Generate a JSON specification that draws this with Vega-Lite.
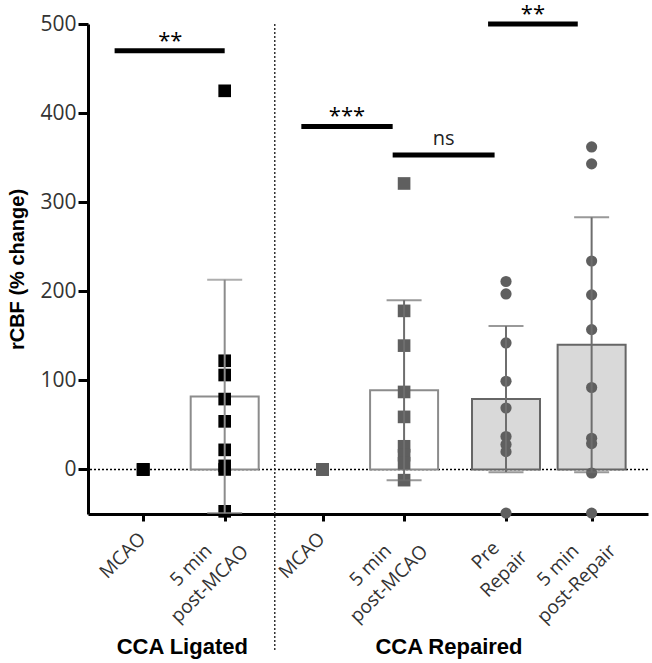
{
  "$schema": "https://vega.github.io/schema/vega-lite/v6.json",
  "width": 560,
  "height": 490,
  "autosize": {"type": "none"},
  "padding": {"left": 88, "top": 24, "right": 4, "bottom": 149},
  "background": "white",
  "config": {"view": {"stroke": null}},
  "datasets": {
    "pts": [
      {"cond": "L_MCAO", "set": "L", "pos": 1, "v": 0},
      {"cond": "L_MCAO", "set": "L", "pos": 1, "v": 0},
      {"cond": "L_MCAO", "set": "L", "pos": 1, "v": 0},
      {"cond": "L_post", "set": "L", "pos": 2, "v": 425},
      {"cond": "L_post", "set": "L", "pos": 2, "v": 122},
      {"cond": "L_post", "set": "L", "pos": 2, "v": 106},
      {"cond": "L_post", "set": "L", "pos": 2, "v": 79},
      {"cond": "L_post", "set": "L", "pos": 2, "v": 54},
      {"cond": "L_post", "set": "L", "pos": 2, "v": 22},
      {"cond": "L_post", "set": "L", "pos": 2, "v": 4},
      {"cond": "L_post", "set": "L", "pos": 2, "v": 0},
      {"cond": "L_post", "set": "L", "pos": 2, "v": -47},
      {"cond": "R_MCAO", "set": "R", "pos": 3.2, "v": 0},
      {"cond": "R_MCAO", "set": "R", "pos": 3.2, "v": 0},
      {"cond": "R_MCAO", "set": "R", "pos": 3.2, "v": 0},
      {"cond": "R_post", "set": "R", "pos": 4.2, "v": 321},
      {"cond": "R_post", "set": "R", "pos": 4.2, "v": 178},
      {"cond": "R_post", "set": "R", "pos": 4.2, "v": 139},
      {"cond": "R_post", "set": "R", "pos": 4.2, "v": 87},
      {"cond": "R_post", "set": "R", "pos": 4.2, "v": 59},
      {"cond": "R_post", "set": "R", "pos": 4.2, "v": 26},
      {"cond": "R_post", "set": "R", "pos": 4.2, "v": 16},
      {"cond": "R_post", "set": "R", "pos": 4.2, "v": 7},
      {"cond": "R_post", "set": "R", "pos": 4.2, "v": -12},
      {"cond": "R_pre", "set": "R", "pos": 5.45, "v": 211},
      {"cond": "R_pre", "set": "R", "pos": 5.45, "v": 197},
      {"cond": "R_pre", "set": "R", "pos": 5.45, "v": 142},
      {"cond": "R_pre", "set": "R", "pos": 5.45, "v": 99},
      {"cond": "R_pre", "set": "R", "pos": 5.45, "v": 69},
      {"cond": "R_pre", "set": "R", "pos": 5.45, "v": 37},
      {"cond": "R_pre", "set": "R", "pos": 5.45, "v": 28},
      {"cond": "R_pre", "set": "R", "pos": 5.45, "v": 20},
      {"cond": "R_pre", "set": "R", "pos": 5.45, "v": -49},
      {"cond": "R_postrep", "set": "R", "pos": 6.5, "v": 362},
      {"cond": "R_postrep", "set": "R", "pos": 6.5, "v": 343},
      {"cond": "R_postrep", "set": "R", "pos": 6.5, "v": 234},
      {"cond": "R_postrep", "set": "R", "pos": 6.5, "v": 196},
      {"cond": "R_postrep", "set": "R", "pos": 6.5, "v": 157},
      {"cond": "R_postrep", "set": "R", "pos": 6.5, "v": 92},
      {"cond": "R_postrep", "set": "R", "pos": 6.5, "v": 35},
      {"cond": "R_postrep", "set": "R", "pos": 6.5, "v": 29},
      {"cond": "R_postrep", "set": "R", "pos": 6.5, "v": -4},
      {"cond": "R_postrep", "set": "R", "pos": 6.5, "v": -49}
    ],
    "sum": [
      {"cond": "L_post", "set": "L", "kind": "open", "pos": 2, "mean": 82, "lo": -49, "hi": 213},
      {"cond": "R_post", "set": "R", "kind": "open", "pos": 4.2, "mean": 89, "lo": -12, "hi": 190},
      {"cond": "R_pre", "set": "R", "kind": "filled", "pos": 5.45, "mean": 79, "lo": -3, "hi": 161},
      {"cond": "R_postrep", "set": "R", "kind": "filled", "pos": 6.5, "mean": 140, "lo": -3, "hi": 283}
    ],
    "sig": [
      {"x1": 0.65, "x2": 2.0, "xm": 1.333, "y": 470, "label": "**"},
      {"x1": 2.94, "x2": 4.06, "xm": 3.5, "y": 385, "label": "***"},
      {"x1": 4.06, "x2": 5.31, "xm": 4.685, "y": 353, "label": "ns"},
      {"x1": 5.23, "x2": 6.33, "xm": 5.78, "y": 500, "label": "**"}
    ],
    "groups": [
      {"xm": 1.48, "y": -199, "label": "CCA Ligated"},
      {"xm": 4.75, "y": -199, "label": "CCA Repaired"}
    ]
  },
  "layer": [
    {
      "data": {"values": [{}]},
      "mark": {"type": "rule", "color": "black", "strokeWidth": 1.5, "strokeDash": [2, 2]},
      "encoding": {"y": {"datum": 0, "type": "quantitative"}}
    },
    {
      "data": {"name": "sum"},
      "mark": {"type": "bar", "width": 68, "strokeWidth": 2},
      "encoding": {
        "x": {
          "field": "pos", "type": "quantitative",
          "scale": {"domain": [0.385, 7.13], "nice": false, "zero": false},
          "axis": {
            "values": [1, 2, 3.2, 4.2, 5.45, 6.5],
            "labelExpr": "(datum.value == 1 || datum.value == 3.2) ? 'MCAO' : (datum.value == 5.45 ? ['Pre', 'Repair'] : (datum.value == 6.5 ? ['5 min', 'post-Repair'] : ['5 min', 'post-MCAO']))",
            "title": null,
            "grid": false,
            "domainColor": "black",
            "domainWidth": 3,
            "tickColor": "black",
            "tickWidth": 3,
            "tickSize": 7,
            "labelAngle": -45,
            "labelAlign": "center",
            "labelBaseline": "middle",
            "labelFont": "Open Sans",
            "labelFontSize": 19,
            "labelColor": "#333333",
            "labelLineHeight": 26,
            "labelFlush": false,
            "labelOverlap": false,
            "labelBound": false,
            "labelOffset": {"condition": {"test": "datum.value == 2 || datum.value == 4.2 || datum.value == 6.5", "value": -34}, "value": -21},
            "labelPadding": {"condition": {"test": "datum.value == 2 || datum.value == 4.2 || datum.value == 6.5", "value": 44}, "value": 34}
          }
        },
        "y": {
          "field": "mean", "type": "quantitative",
          "scale": {"domain": [-50, 500], "nice": false, "zero": false},
          "axis": {
            "values": [0, 100, 200, 300, 400, 500],
            "title": "rCBF (% change)",
            "titleFont": "Liberation Sans",
            "titleFontWeight": "bold",
            "titleFontSize": 20,
            "titleColor": "black",
            "titlePadding": 12,
            "grid": false,
            "domainColor": "black",
            "domainWidth": 3,
            "tickColor": "black",
            "tickWidth": 3,
            "tickSize": 10,
            "labelPadding": 2,
            "labelFont": "Open Sans",
            "labelFontSize": 21,
            "labelColor": "#333333"
          }
        },
        "y2": {"datum": 0},
        "fill": {"condition": {"test": "datum.kind == 'filled'", "value": "#d9d9d9"}, "value": "white"},
        "stroke": {"condition": {"test": "datum.kind == 'filled'", "value": "#666666"}, "value": "#8c8c8c"}
      }
    },
    {
      "data": {"name": "pts"},
      "mark": {"type": "point", "filled": true, "opacity": 1, "strokeWidth": 0},
      "encoding": {
        "x": {"field": "pos", "type": "quantitative"},
        "y": {"field": "v", "type": "quantitative"},
        "color": {"condition": {"test": "datum.set == 'L'", "value": "black"}, "value": "#5f5f5f"},
        "shape": {"condition": {"test": "datum.cond == 'R_pre' || datum.cond == 'R_postrep'", "value": "circle"}, "value": "square"},
        "size": {"condition": {"test": "datum.cond == 'R_pre' || datum.cond == 'R_postrep'", "value": 125}, "value": 160}
      }
    },
    {
      "data": {"name": "sum"},
      "mark": {"type": "rule", "strokeWidth": 2},
      "encoding": {
        "x": {"field": "pos", "type": "quantitative"},
        "y": {"field": "lo", "type": "quantitative"},
        "y2": {"field": "hi"},
        "color": {"condition": {"test": "datum.set == 'L'", "value": "#8c8c8c"}, "value": "#6e6e6e"}
      }
    },
    {
      "data": {"name": "sum"},
      "mark": {"type": "tick", "orient": "horizontal", "size": 35, "thickness": 2},
      "encoding": {
        "x": {"field": "pos", "type": "quantitative"},
        "y": {"field": "hi", "type": "quantitative"},
        "color": {"condition": {"test": "datum.set == 'L'", "value": "#8c8c8c"}, "value": "#6e6e6e"}
      }
    },
    {
      "data": {"name": "sum"},
      "mark": {"type": "tick", "orient": "horizontal", "size": 35, "thickness": 2},
      "encoding": {
        "x": {"field": "pos", "type": "quantitative"},
        "y": {"field": "lo", "type": "quantitative"},
        "color": {"condition": {"test": "datum.set == 'L'", "value": "#8c8c8c"}, "value": "#6e6e6e"}
      }
    },
    {
      "data": {"name": "sig"},
      "mark": {"type": "rule", "color": "black", "strokeWidth": 5},
      "encoding": {
        "x": {"field": "x1", "type": "quantitative"},
        "x2": {"field": "x2"},
        "y": {"field": "y", "type": "quantitative"}
      }
    },
    {
      "data": {"name": "sig"},
      "transform": [{"filter": "datum.label != 'ns'"}],
      "mark": {"type": "text", "font": "Open Sans", "fontSize": 22, "color": "black", "baseline": "alphabetic", "align": "center", "dy": -3},
      "encoding": {
        "x": {"field": "xm", "type": "quantitative"},
        "y": {"field": "y", "type": "quantitative"},
        "text": {"field": "label"}
      }
    },
    {
      "data": {"name": "sig"},
      "transform": [{"filter": "datum.label == 'ns'"}],
      "mark": {"type": "text", "font": "Open Sans", "fontSize": 20, "color": "#222222", "baseline": "alphabetic", "align": "center", "dy": -10},
      "encoding": {
        "x": {"field": "xm", "type": "quantitative"},
        "y": {"field": "y", "type": "quantitative"},
        "text": {"field": "label"}
      }
    },
    {
      "data": {"values": [{}]},
      "mark": {"type": "rule", "color": "#333333", "strokeWidth": 1.5, "strokeDash": [2, 2]},
      "encoding": {
        "x": {"datum": 2.614, "type": "quantitative"},
        "y": {"datum": 500, "type": "quantitative"},
        "y2": {"datum": -205}
      }
    },
    {
      "data": {"name": "groups"},
      "mark": {"type": "text", "font": "Liberation Sans", "fontWeight": "bold", "fontSize": 22, "color": "black", "baseline": "middle", "align": "center"},
      "encoding": {
        "x": {"field": "xm", "type": "quantitative"},
        "y": {"field": "y", "type": "quantitative"},
        "text": {"field": "label"}
      }
    }
  ]
}
